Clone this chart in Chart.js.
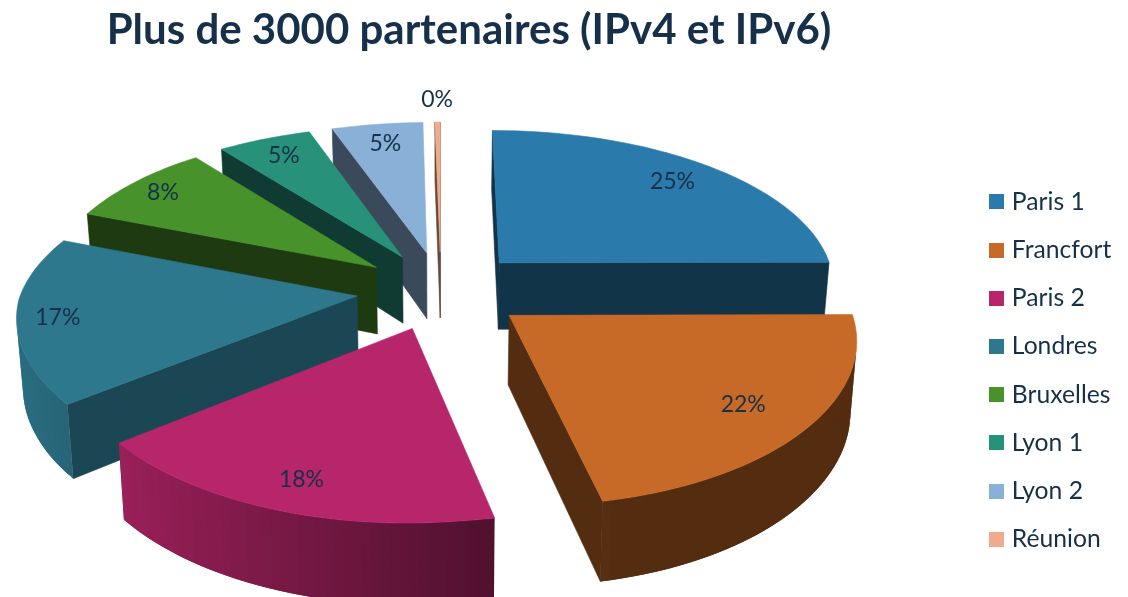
<!DOCTYPE html>
<html lang="fr">
<head>
<meta charset="utf-8">
<title>Plus de 3000 partenaires</title>
<script src="https://cdn.jsdelivr.net/npm/chart.js@4/dist/chart.umd.min.js"></script>
<style>
  html, body { margin: 0; padding: 0; background: #fff; }
  canvas { display: block; }
</style>
</head>
<body>
<canvas id="pieChart" width="1128" height="597"></canvas>
<script>
const sites = ["Paris 1", "Francfort", "Paris 2", "Londres", "Bruxelles", "Lyon 1", "Lyon 2", "Réunion"];
const shares = [25, 22, 18, 17, 8, 5, 5, 0.3];
const sliceColors = ["#2A7BAB", "#C76A27", "#B7266A", "#2E788E", "#48922B", "#27917A", "#89B0D6", "#EFAB8C"];
const wallShades = [0.42, 0.42, 0.42, 0.59, 0.4, 0.41, 0.42, 0.42];
const labelRadius = [0.82, 0.8, 0.85, 0.88, 0.88, 0.85, 0.83, 1.2];

const titleText = "Plus de 3000 partenaires (IPv4 et IPv6)";
const inkColor = "#17304A";

// projection of the pie, fitted on the picture
const view = { cx: 441, cy: 290, rx: 338, ry: 157, depth: 68, persp: 0.135, explode: 0.25 };

function project(u, v, z) {
  const s = 1 / (1 - view.persp * v);
  // small skews, the original 3D view is not quite straight on
  const skewX = v > 0 ? v * (10 - 12 * u) : 14 * v * Math.max(0, -u - 0.3);
  const skewY = 7 * Math.max(0, -u) * Math.min(1, Math.max(0, 2 + 2 * v));
  return {
    x: view.cx + view.rx * u * s * (1 - 0.015 * z) + skewX,
    y: view.cy + view.ry * v * s + view.depth * z * s + skewY,
  };
}

// theta is clockwise from the top, r goes from 0 to 1 on the slice
function slicePoint(theta, r, mid, z) {
  const u = r * Math.sin(theta) + view.explode * Math.sin(mid);
  const v = -r * Math.cos(theta) - view.explode * Math.cos(mid);
  return project(u, v, z);
}

function shade(hex, f) {
  const n = parseInt(hex.slice(1), 16);
  const r = Math.round(((n >> 16) & 255) * f);
  const g = Math.round(((n >> 8) & 255) * f);
  const b = Math.round((n & 255) * f);
  return `rgb(${r}, ${g}, ${b})`;
}

function signedArea(pts) {
  let a = 0;
  pts.forEach((p, i) => {
    const q = pts[(i + 1) % pts.length];
    a += p.x * q.y - q.x * p.y;
  });
  return a / 2;
}

function fillPoly(ctx, pts, color, withEdge) {
  ctx.beginPath();
  pts.forEach((p, i) => (i ? ctx.lineTo(p.x, p.y) : ctx.moveTo(p.x, p.y)));
  ctx.closePath();
  ctx.fillStyle = color;
  ctx.fill();
  if (withEdge) {
    ctx.strokeStyle = color;
    ctx.lineWidth = 0.6;
    ctx.stroke();
  }
}

function drawSlice(ctx, arc, color, wallShade) {
  const a0 = arc.startAngle + Math.PI / 2;
  const a1 = arc.endAngle + Math.PI / 2;
  const mid = (a0 + a1) / 2;
  const steps = Math.max(2, Math.ceil((a1 - a0) / 0.025));
  const wallColor = shade(color, wallShade);

  // cut faces
  const wall = (theta) => [
    slicePoint(theta, 0, mid, 0),
    slicePoint(theta, 1, mid, 0),
    slicePoint(theta, 1, mid, 1),
    slicePoint(theta, 0, mid, 1),
  ];
  const startWall = wall(a0);
  const endWall = wall(a1);
  if (signedArea(startWall) < 0) fillPoly(ctx, startWall, wallColor, true);
  if (signedArea(endWall) > 0) fillPoly(ctx, endWall, wallColor, true);

  // rim, lighter on the left than on the right. Strips overlap so no seams show
  for (let i = 0; i < steps; i++) {
    const t0 = a0 + ((a1 - a0) * i) / steps;
    const t1 = a0 + ((a1 - a0) * Math.min(steps, i + 2)) / steps;
    const strip = [
      slicePoint(t0, 1, mid, 0),
      slicePoint(t1, 1, mid, 0),
      slicePoint(t1, 1, mid, 1),
      slicePoint(t0, 1, mid, 1),
    ];
    if (signedArea(strip) < 0) {
      const f = Math.min(0.9, Math.max(0.42, 0.52 - 0.4 * Math.sin(t0)));
      fillPoly(ctx, strip, shade(color, f), false);
    }
  }

  // top face
  const top = [slicePoint(a0, 0, mid, 0)];
  for (let i = 0; i <= steps; i++) {
    top.push(slicePoint(a0 + ((a1 - a0) * i) / steps, 1, mid, 0));
  }
  fillPoly(ctx, top, color, true);
}

function swatch(color) {
  const c = document.createElement("canvas");
  c.width = 15;
  c.height = 15;
  const g = c.getContext("2d");
  g.fillStyle = color;
  g.fillRect(0, 0, 15, 15);
  return c;
}

const pie3d = {
  id: "pie3d",
  afterLayout(chart) {
    // the title is centred over the pie, the legend sits low on the right
    chart.titleBlock.left = 0;
    chart.titleBlock.right = 938;
    chart.legend.left = 969;
    chart.legend.top = 166;
    chart.legend.bottom = 597;
  },
  beforeDatasetsDraw(chart) {
    const { ctx } = chart;
    const meta = chart.getDatasetMeta(0);
    const total = shares.reduce((a, b) => a + b, 0);
    const midOf = (arc) => (arc.startAngle + arc.endAngle) / 2 + Math.PI / 2;
    const order = meta.data
      .map((arc, i) => i)
      .sort((a, b) => -Math.cos(midOf(meta.data[a])) + Math.cos(midOf(meta.data[b])));

    order.forEach((i) => drawSlice(ctx, meta.data[i], sliceColors[i], wallShades[i]));

    ctx.save();
    ctx.fillStyle = inkColor;
    ctx.font = "23px Lato";
    ctx.textAlign = "center";
    ctx.textBaseline = "middle";
    meta.data.forEach((arc, i) => {
      const mid = midOf(arc);
      const pct = Math.round((shares[i] / total) * 100);
      const p = slicePoint(mid, labelRadius[i], mid, 0);
      ctx.fillText(pct + "%", p.x, p.y);
    });
    ctx.restore();
    return false;
  },
};

new Chart(document.getElementById("pieChart"), {
  type: "pie",
  data: {
    labels: sites,
    datasets: [{ data: shares, backgroundColor: sliceColors, borderWidth: 0 }],
  },
  options: {
    responsive: false,
    animation: false,
    plugins: {
      title: {
        display: true,
        text: titleText,
        color: "#17304A",
        font: { family: "Lato", size: 42, weight: "bold" },
        padding: { top: 5, bottom: 8 },
      },
      legend: {
        position: "right",
        align: "start",
        labels: {
          color: inkColor,
          font: { family: "Lato", size: 24.7 },
          usePointStyle: true,
          pointStyleWidth: 7,
          boxHeight: 15,
          padding: 23.5,
          generateLabels() {
            return sites.map((site, i) => ({
              text: site,
              fillStyle: sliceColors[i],
              strokeStyle: sliceColors[i],
              fontColor: inkColor,
              lineWidth: 0,
              hidden: false,
              index: i,
              pointStyle: swatch(sliceColors[i]),
            }));
          },
        },
      },
      tooltip: { enabled: false },
    },
  },
  plugins: [pie3d],
});
</script>
</body>
</html>
